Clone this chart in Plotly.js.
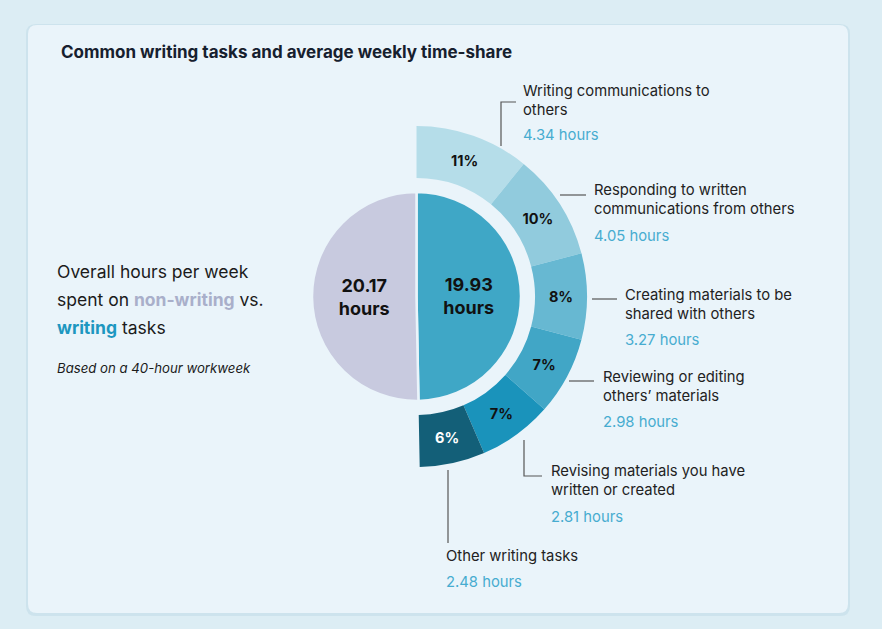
<!DOCTYPE html>
<html>
<head>
<meta charset="utf-8">
<script src="https://cdn.plot.ly/plotly-3.0.1.min.js"></script>
<style>html,body{margin:0;padding:0;background:#dcedf4;}#chart{width:882px;height:629px;}</style>
</head>
<body>
<div id="chart"></div>
<script>
// ---- data ----
const overallLabels = ['Writing', 'Non-writing'];
const overallHours = [19.93, 20.17];
const overallColors = ['#3fa7c6', '#c8cadf'];

const taskLabels = [
  'Writing communications to<br>others',
  'Responding to written<br>communications from others',
  'Creating materials to be<br>shared with others',
  'Reviewing or editing<br>others\u2019 materials',
  'Revising materials you have<br>written or created',
  'Other writing tasks'
];
const taskHours = [4.34, 4.05, 3.27, 2.98, 2.81, 2.48];
const taskColors = ['#b5dde9', '#91cbdd', '#67b8d2', '#41a6c6', '#1a93bb', '#135f78'];
const taskTextColors = ['#111', '#111', '#111', '#111', '#111', '#ffffff'];

// ---- layout helpers ----
const W = 882, H = 629;
const px = x => x / W;
const py = y => 1 - y / H;
const cx = 416.5, cy = 296.5, rOut = 170.5, rIn = 104.5;

// outer ring includes a hidden non-writing slice so writing tasks cover the right half
const ringValues = taskHours.concat([overallHours[1]]);
const ringColors = taskColors.concat(['rgba(0,0,0,0)']);
const ringTemplates = taskHours.map(() => '<b>%{percent:.0%}</b>').concat([' ']);
const ringTextColors = taskTextColors.concat(['#111']);

const traces = [
  {
    type: 'pie',
    values: ringValues,
    labels: taskLabels.concat(['hidden']),
    sort: false,
    direction: 'clockwise',
    rotation: 0,
    hole: 118.5 / 170.5,
    marker: {colors: ringColors, line: {width: 0}},
    texttemplate: ringTemplates,
    textposition: 'inside',
    insidetextorientation: 'horizontal',
    insidetextfont: {family: 'Inter, sans-serif', size: 14.5, color: ringTextColors},
    hoverinfo: 'skip',
    showlegend: false,
    domain: {x: [px(cx - rOut), px(cx + rOut)], y: [py(cy + rOut), py(cy - rOut)]}
  },
  {
    type: 'pie',
    values: overallHours,
    labels: overallLabels,
    sort: false,
    direction: 'clockwise',
    rotation: 0,
    marker: {colors: overallColors, line: {width: 2.5, color: '#eaf4fa'}},
    texttemplate: '<b>%{value}<br>hours</b>',
    textposition: 'inside',
    insidetextorientation: 'horizontal',
    insidetextfont: {family: 'Inter, sans-serif', size: 18, color: '#111'},
    hoverinfo: 'skip',
    showlegend: false,
    domain: {x: [px(cx - rIn), px(cx + rIn)], y: [py(cy + rIn), py(cy - rIn)]}
  }
];

// label positions (pixel), leader paths
const labelPos = [
  {x: 521, y: 100, hy: 135, path: [[501, 146], [501, 102], [516, 102]]},
  {x: 592, y: 199, hy: 236, path: [[560, 195], [586, 195]]},
  {x: 623, y: 304, hy: 340, path: [[592, 299], [617, 299]]},
  {x: 601, y: 386, hy: 422, path: [[569, 381], [594, 381]]},
  {x: 549, y: 480, hy: 517, path: [[524, 440], [524, 476], [542, 476]]},
  {x: 444, y: 556, hy: 582, path: [[448, 470], [448, 543]]}
];

const annotations = [];
const shapes = [];

// card shadow + card
function roundRect(x0, y0, x1, y1, r) {
  const X = v => px(v), Y = v => py(v);
  return `M ${X(x0 + r)} ${Y(y0)} L ${X(x1 - r)} ${Y(y0)} Q ${X(x1)} ${Y(y0)} ${X(x1)} ${Y(y0 + r)} ` +
    `L ${X(x1)} ${Y(y1 - r)} Q ${X(x1)} ${Y(y1)} ${X(x1 - r)} ${Y(y1)} L ${X(x0 + r)} ${Y(y1)} ` +
    `Q ${X(x0)} ${Y(y1)} ${X(x0)} ${Y(y1 - r)} L ${X(x0)} ${Y(y0 + r)} Q ${X(x0)} ${Y(y0)} ${X(x0 + r)} ${Y(y0)} Z`;
}
shapes.push({type: 'path', xref: 'paper', yref: 'paper', path: roundRect(26, 24, 850, 616, 10),
  fillcolor: 'rgba(160,200,215,0.25)', line: {width: 0}, layer: 'below'});
shapes.push({type: 'path', xref: 'paper', yref: 'paper', path: roundRect(28, 25, 848, 613, 9),
  fillcolor: '#eaf4fa', line: {width: 0}, layer: 'below'});

labelPos.forEach((p, i) => {
  annotations.push({xref: 'paper', yref: 'paper', x: px(p.x), y: py(p.y), xanchor: 'left', yanchor: 'middle',
    text: taskLabels[i], showarrow: false, align: 'left',
    font: {family: 'Inter, sans-serif', size: 14.8, color: '#222'}});
  annotations.push({xref: 'paper', yref: 'paper', x: px(p.x), y: py(p.hy), xanchor: 'left', yanchor: 'middle',
    text: taskHours[i].toFixed(2) + ' hours', showarrow: false, align: 'left',
    font: {family: 'Inter, sans-serif', size: 14.8, color: '#47acd0'}});
  const d = p.path.map((pt, j) => (j ? 'L ' : 'M ') + px(pt[0]) + ' ' + py(pt[1])).join(' ');
  shapes.push({type: 'path', xref: 'paper', yref: 'paper', path: d, line: {color: '#555', width: 1.2}});
});

// title
annotations.push({xref: 'paper', yref: 'paper', x: px(59), y: py(52), xanchor: 'left', yanchor: 'middle',
  text: 'Common writing tasks and average weekly time-share', showarrow: false,
  font: {family: 'Inter, sans-serif', size: 17, color: '#16202e', weight: 700}});

// left description
const leftLines = [
  'Overall hours per week',
  'spent on <b><span style="color:#a9afca">non-writing</span></b> vs.',
  '<b><span style="color:#1d97c0">writing</span></b> tasks'
];
[271, 299, 327].forEach((y, i) => {
  annotations.push({xref: 'paper', yref: 'paper', x: px(55), y: py(y), xanchor: 'left', yanchor: 'middle',
    text: leftLines[i], showarrow: false, font: {family: 'Inter, sans-serif', size: 17.5, color: '#1b1b1b'}});
});
annotations.push({xref: 'paper', yref: 'paper', x: px(55), y: py(368), xanchor: 'left', yanchor: 'middle',
  text: '<i>Based on a 40-hour workweek</i>', showarrow: false,
  font: {family: 'Inter, sans-serif', size: 13.2, color: '#1b1b1b'}});

const layout = {
  width: W, height: H,
  margin: {l: 0, r: 0, t: 0, b: 0},
  paper_bgcolor: '#dcedf4',
  plot_bgcolor: 'rgba(0,0,0,0)',
  showlegend: false,
  shapes: shapes,
  annotations: annotations
};

Plotly.newPlot('chart', traces, layout, {displayModeBar: false, staticPlot: true});
</script>
</body>
</html>
